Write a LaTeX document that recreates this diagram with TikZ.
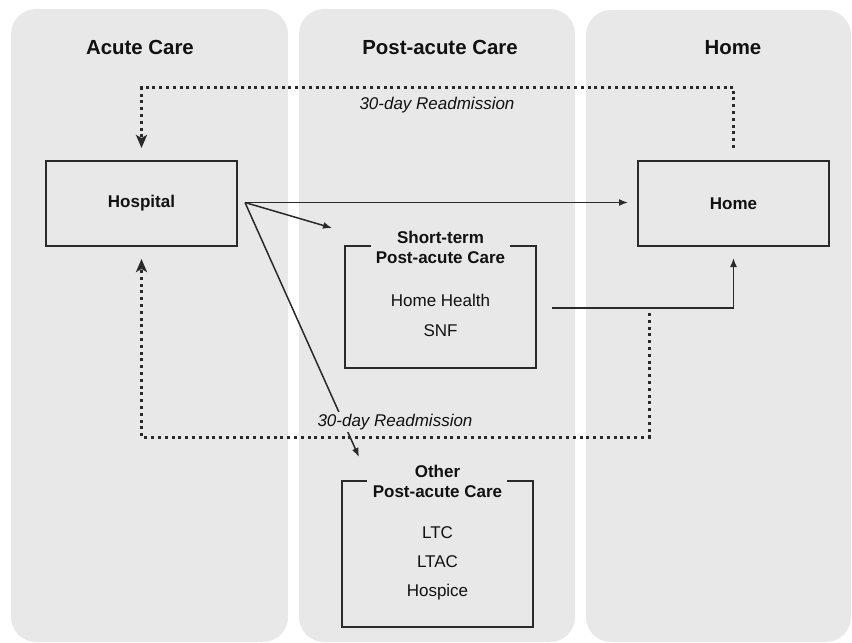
\documentclass[tikz,border=0pt]{standalone}
\usepackage{fontspec}
\setmainfont{Liberation Sans}
\usetikzlibrary{arrows.meta,calc}
\definecolor{panel}{HTML}{E8E8E8}
\definecolor{ink}{HTML}{2A2A2A}
\definecolor{txt}{HTML}{111111}
\begin{document}
\begin{tikzpicture}[x=1pt,y=-1pt,
  panelbox/.style={fill=panel,rounded corners=25pt},
  head/.style={font=\fontsize{20.4}{24}\selectfont\bfseries,text=txt,inner sep=0pt,anchor=base},
  box/.style={draw=ink,line width=1.6pt,minimum width=191pt,minimum height=85pt,inner sep=0pt,outer sep=0pt,
    font=\fontsize{17}{20}\selectfont\bfseries,text=txt},
  bracket/.style={draw=none,inner sep=0pt,outer sep=0pt,minimum width=191pt},
  boxline/.style={draw=ink,line width=1.6pt},
  subtitle/.style={font=\fontsize{17}{20}\selectfont\bfseries,text=txt,inner sep=0pt,anchor=base},
  item/.style={font=\fontsize{17}{20}\selectfont,text=txt,inner sep=0pt,anchor=base},
  lbl/.style={font=\fontsize{17}{20}\selectfont\itshape,text=txt,inner sep=2pt,fill=panel},
  arr/.style={draw=ink,line width=1.5pt,-{Latex[length=9pt,width=7pt]}},
  readm/.style={draw=ink,line width=3pt,dash pattern=on 3pt off 3.8pt,-{Stealth[length=13pt,width=11pt,inset=3pt]}}
]
\useasboundingbox (0,0) rectangle (852,643);
% panels
\path[panelbox] (11,9) rectangle (288,642);
\path[panelbox] (299,9) rectangle (575,642);
\path[panelbox] (586,10) rectangle (851,642);
% headers
\node[head] (hac) at (140,54) {Acute Care};
\node[head] (hpa) at (440,54) {Post-acute Care};
\node[head] (hho) at (733,54) {Home};
% main boxes
\node[box] (hosp) at (141.5,203.5) {Hospital};
\node[box] (home) at (733.5,203.5) {Home};
% bracket boxes
\node[bracket,minimum height=122pt] (st) at (440.5,307) {};
\node[bracket,minimum height=146pt] (ot) at (437.5,554) {};
\draw[boxline] ([shift={(26,0)}]st.north west) -- (st.north west) -- (st.south west) -- (st.south east) -- (st.north east) -- ([shift={(-26,0)}]st.north east);
\draw[boxline] ([shift={(25,0)}]ot.north west) -- (ot.north west) -- (ot.south west) -- (ot.south east) -- (ot.north east) -- ([shift={(-26,0)}]ot.north east);
% texts in brackets
\node[subtitle] (st1) at (440.5,243) {Short-term};
\node[subtitle] (st2) at (440.5,263) {Post-acute Care};
\node[item] (st3) at (440.5,306) {Home Health};
\node[item] (st4) at (440.5,336) {SNF};
\node[subtitle] (ot1) at (437.5,477) {Other};
\node[subtitle] (ot2) at (437.5,497) {Post-acute Care};
\node[item] (ot3) at (437.5,538) {LTC};
\node[item] (ot4) at (437.5,567) {LTAC};
\node[item] (ot5) at (437.5,596) {Hospice};
% solid arrows
\coordinate (hs) at ([shift={(8,-1)}]hosp.east);
\draw[arr,shorten >=10pt] (hs) -- (hs -| home.west);
\draw[arr] (hs) -- ([shift={(-13,-18)}]st.north west);
\draw[arr] (hs) -- ([shift={(17,-24)}]ot.north west);
\draw[arr] ([shift={(16,1)}]st.east) -| ([shift={(0,12)}]home.south);
% labels (cover the line behind them)
\node[lbl] (l1) at (437,105) {30-day Readmission};
\node[lbl] (l2) at (395,422) {30-day Readmission};
% readmission
\draw[readm] ([shift={(0,-13)}]home.north) -- ++(0,-61) -| ([shift={(0,-13)}]hosp.north);
\coordinate (rd) at (649,313);
\draw[readm] (rd) -- ++(0,124) -| ([shift={(0,13)}]hosp.south);
\end{tikzpicture}
\end{document}
